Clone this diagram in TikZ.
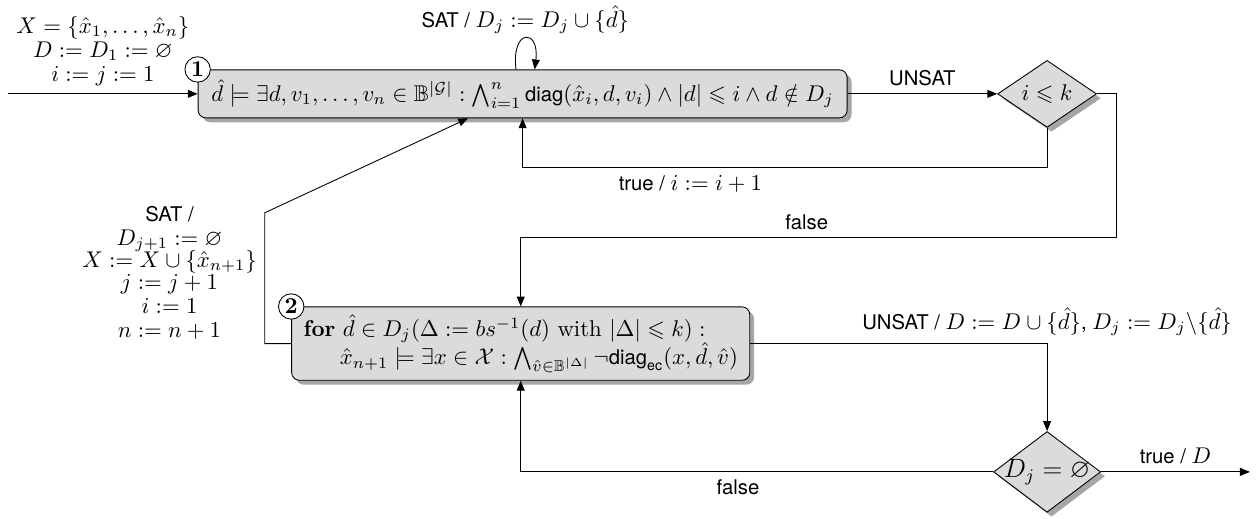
\RequirePackage{fix-cm}
\documentclass[tikz,border=0pt]{standalone}
\usepackage{amssymb, amsmath}
\usepackage{fontspec}
\setsansfont[Scale=0.89]{TeX Gyre Heros}
\usetikzlibrary{positioning,shapes.geometric,shadows,arrows.meta}

\tikzset{
    stepbox/.style={draw, rounded corners=3.5pt, fill=black!14, inner xsep=2pt,
        drop shadow={shadow xshift=2pt, shadow yshift=-2pt, fill=black!35, opacity=1}},
    decbox/.style={draw, diamond, aspect=1.5, inner sep=0pt, fill=black!14,
        drop shadow={shadow xshift=2pt, shadow yshift=-2pt, fill=black!35, opacity=1}},
    num/.style={draw, circle, fill=white, inner sep=0.9pt, font=\bfseries},
    cond/.style={font=\sffamily},
}

\begin{document}
\fontsize{10.35}{11}\selectfont
\begin{tikzpicture}[>={Triangle[length=4.5pt,width=3.6pt]}]
    \useasboundingbox (0,0) rectangle (20.10,8.29);

    \node (check) [stepbox, minimum width=10.37cm, minimum height=0.767cm] at (8.35,6.79)
        {$\hat{d} \models \exists d, v_1, \ldots, v_n \in \mathbb{B}^{|\mathcal{G}|} : \bigwedge_{i=1}^{n} \mathsf{diag}(\hat{x}_i, d, v_i) \wedge |d| \leqslant i \wedge d \notin D_j$};
    \node (bound) [decbox, minimum width=1.58cm, minimum height=1.07cm] at (16.73,6.79) {$i \leqslant k$};
    \node (refine) [stepbox, minimum width=7.32cm, minimum height=1.15cm, align=left] at (8.32,2.80)
        {\textbf{for} $\hat{d} \in D_j(\Delta := bs^{-1}(d)$ with $|\Delta| \leqslant k) :$\\[-1pt]
         \hspace{1.6em}$\hat{x}_{n+1} \models \exists x \in \mathcal{X} : \bigwedge_{\hat{v} \in \mathbb{B}^{|\Delta|}} \neg\mathsf{diag}_{\mathsf{ec}}(x, \hat{d}, \hat{v})$};
    \node (empty) [decbox, minimum width=1.71cm, minimum height=1.29cm, font=\large] at (16.73,0.75)
        {\makebox[0pt]{$D_j = \varnothing$}};
    \node (n1) [num] at (check.north west) {1};
    \node (n2) [num] at (refine.north west) {2};

    \coordinate (start) at (0.13,6.79);
    \coordinate (retry) at (16.73,5.62);
    \coordinate (fail) at (17.84,4.49);
    \coordinate (grow) at (4.23,4.89);
    \coordinate (back) at (7.48,6.40);
    \coordinate (finish) at (19.97,0.75);

    \path[->] (start) edge node[above, align=center]
        {$X = \{\hat{x}_1, \ldots, \hat{x}_n\}$\\ $D := D_1 := \varnothing$\\ $i := j := 1$} (check);
    \draw[->] ([xshift=-3pt]check.north) .. controls +(-0.08,0.66) and +(0.08,0.66) .. ([xshift=5.5pt]check.north)
        node[cond, above, pos=0.5, inner sep=2pt] {SAT / $D_j := D_j \cup \{\hat{d}\}$};
    \path[->] (check) edge node[cond, above] {UNSAT} (bound);
    \draw[->] (bound) -- (retry) -| node[cond, below, pos=0.34] {true / $i := i + 1$} (check.south);
    \draw[->] (bound.east) -| (fail) -| node[cond, above, pos=0.26] {false} (refine.north);
    \draw[->] (refine.west) -| node[cond, left, align=center, pos=0.77]
        {SAT /\\ $D_{j+1} := \varnothing$\\[-1pt] $X := X \cup \{\hat{x}_{n+1}\}$\\[-1pt] $j := j + 1$\\ $i := 1$\\ $n := n + 1$} (grow) -- (back);
    \draw[->] (refine.east) -| node[cond, above, pos=0.5]
        {UNSAT / $D := D \cup \{\hat{d}\}$, $D_j := D_j \backslash \{\hat{d}\}$} (empty.north);
    \draw[->] (empty.west) -| node[cond, below, pos=0.27] {false} (refine.south);
    \path[->] (empty) edge node[cond, above] {true / $D$} (finish);
\end{tikzpicture}
\end{document}
